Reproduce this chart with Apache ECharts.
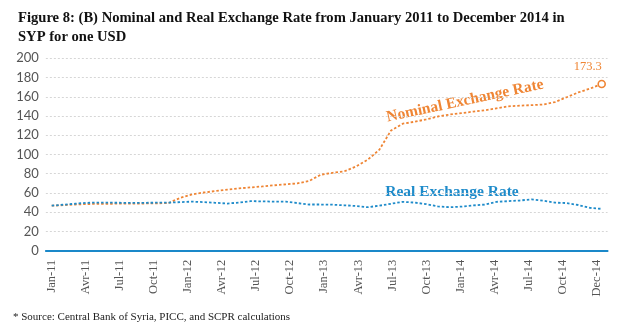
<!DOCTYPE html>
<html>
<head>
<meta charset="utf-8">
<script src="https://cdn.jsdelivr.net/npm/echarts@6/dist/echarts.min.js"></script>
<style>
html,body{margin:0;padding:0;background:#fff;}
#chart{width:620px;height:335px;}
</style>
</head>
<body>
<div id="chart"></div>
<script>
// ---- data ----
var months = (function(){
  var m = ['Jan','Feb','Mar','Avr','May','Jun','Jul','Aug','Sep','Oct','Nov','Dec'];
  var out = [];
  for (var y = 11; y <= 14; y++) for (var k = 0; k < 12; k++) out.push(m[k] + '-' + y);
  return out;
})();
var tickLabels = ['Jan-11','Avr-11','Jul-11','Oct-11','Jan-12','Avr-12','Jul-12','Oct-12',
  'Jan-13','Avr-13','Jul-13','Oct-13','Jan-14','Avr-14','Jul-14','Oct-14','Dec-14'];
var nominal = [46.8,47.3,48,48.5,48.7,48.8,48.9,49,49.1,49.2,49.6,55,
  58.5,60.5,62,63.5,64.8,65.8,66.8,68,69,70,72.5,79,
  81,82.5,87.5,94.5,105,125,132,134,136.5,139.5,141.5,143,
  144.5,146,148,150,150.8,151.3,152,154.5,159.5,164.5,168.5,173.3];
var real = [46.8,47.8,48.8,49.8,50,49.9,49.8,49.8,49.8,49.9,50,50.5,
  51,50.5,49.8,49,50,51.5,51.3,51,51,49.5,48,48,
  47.8,47.2,46.5,45.2,46.8,48.8,50.8,50,48.5,46,45.2,45.8,
  47,48,50.8,51.5,52.2,53.4,52,50,49.5,47.5,44.5,43.5];
var yTicks = [0,20,40,60,80,100,120,140,160,180,200];

var ORANGE = '#ef8534', BLUE = '#1e8bca';
var chart = echarts.init(document.getElementById('chart'), null, {renderer:'canvas'});
var nominalData = nominal.map(function(v, i){
  if (i === nominal.length - 1) {
    return {value: v, symbol: 'circle', symbolSize: 7,
      itemStyle: {color: '#fff', borderColor: ORANGE, borderWidth: 1.6},
      label: {show: true, position: 'top', offset: [-14, -1], formatter: '{c}',
        color: ORANGE, fontSize: 12.5, fontFamily: 'Liberation Serif'}};
  }
  return v;
});
var gridTop = 58.3, gridBottom = 84.3;
chart.setOption({
  animation: false,
  title: {
    text: 'Figure 8: (B) Nominal and Real Exchange Rate from January 2011 to December 2014 in\nSYP for one USD',
    left: 13, top: 4,
    textStyle: {fontFamily: 'Liberation Serif', fontWeight: 'bold', fontSize: 14.6, color: '#111', lineHeight: 19}
  },
  grid: [
    {left: 45.85, right: 12.45, top: gridTop, bottom: gridBottom},
    {left: 51.7, right: 23.3, top: gridTop, bottom: gridBottom}
  ],
  xAxis: [
    {type: 'category', gridIndex: 0, data: months, boundaryGap: true,
      axisLine: {lineStyle: {color: '#1a88c9', width: 2}},
      axisTick: {show: false}, axisLabel: {show: false}, splitLine: {show: false}},
    {type: 'category', gridIndex: 1, data: tickLabels, boundaryGap: false,
      axisLine: {show: false}, axisTick: {show: false}, splitLine: {show: false},
      axisLabel: {rotate: 90, margin: 9, color: '#555', fontSize: 12.5, fontFamily: 'Liberation Serif', interval: 0}}
  ],
  yAxis: [
    {type: 'value', gridIndex: 0, min: 0, max: 200, interval: 20,
      axisLine: {show: false}, axisTick: {show: false},
      axisLabel: {color: '#555', fontSize: 13, fontFamily: 'Lato', margin: 7},
      splitLine: {lineStyle: {color: '#d6d6d6', type: [2, 2], width: 1}}},
    {type: 'value', gridIndex: 1, min: 0, max: 200, show: false}
  ],
  series: [
    {name: 'Nominal Exchange Rate', type: 'line', xAxisIndex: 0, yAxisIndex: 0,
      data: nominalData, symbol: 'none', smooth: false, z: 3,
      lineStyle: {color: ORANGE, width: 1.8, type: [2.5, 2]}, itemStyle: {color: ORANGE}},
    {name: 'Real Exchange Rate', type: 'line', xAxisIndex: 0, yAxisIndex: 0,
      data: real, symbol: 'none', z: 3,
      lineStyle: {color: BLUE, width: 1.8, type: [2.5, 2]}, itemStyle: {color: BLUE}}
  ],
  graphic: [
    {type: 'text', x: 465, y: 101, rotation: 12 * Math.PI / 180,
      style: {text: 'Nominal Exchange Rate', fill: ORANGE, font: 'bold 15.5px "Liberation Serif"',
        textAlign: 'center', textVerticalAlign: 'middle'}},
    {type: 'text', x: 452, y: 191.5,
      style: {text: 'Real Exchange Rate', fill: BLUE, font: 'bold 15.5px "Liberation Serif"',
        textAlign: 'center', textVerticalAlign: 'middle'}},
    {type: 'text', x: 13, y: 312,
      style: {text: '* Source: Central Bank of Syria, PICC, and SCPR calculations', fill: '#222',
        font: '11px "Liberation Serif"'}}
  ]
});
</script>
</body>
</html>
